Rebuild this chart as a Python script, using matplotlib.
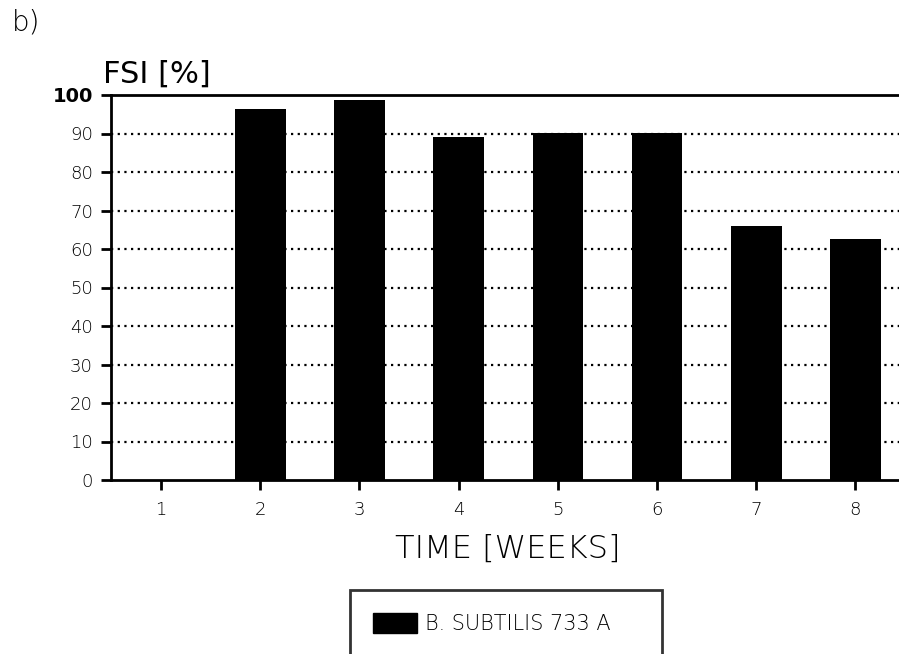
import matplotlib
matplotlib.use("Agg")
import matplotlib.pyplot as plt
from matplotlib.patches import Patch

weeks = [1, 2, 3, 4, 5, 6, 7, 8]
fsi = [0, 96.4, 98.7, 89.2, 90.1, 90.1, 66.1, 62.5]
yticks = [0, 10, 20, 30, 40, 50, 60, 70, 80, 90, 100]
series_name = "B. SUBTILIS 733 A"

plt.rcParams['font.family'] = ['DejaVu Sans']

W, H = 899, 654
fig = plt.figure(figsize=(W / 100, H / 100), dpi=100)
ax = fig.add_axes([111 / W, 174 / H, (905 - 111) / W, (480 - 95) / H])

for y in yticks[1:-1]:
    ax.axhline(y, color='black', linestyle=(0, (1, 2)), lw=1.6, zorder=1)

ax.bar(weeks, fsi, width=0.51, color='black', zorder=2, label=series_name)

ax.set_xlim(0.495, 8.5)
ax.set_ylim(0, 100)
ax.set_xticks(weeks)
ax.set_xticklabels([str(w) for w in weeks], fontsize=13, fontweight='light')
ax.set_yticks(yticks)
ylabels = ax.set_yticklabels([str(v) for v in yticks], fontsize=13, fontweight='light')
ylabels[-1].set_fontweight('bold')
ylabels[-1].set_fontsize(14)

for s in ['left', 'bottom', 'top']:
    ax.spines[s].set_linewidth(2)
ax.spines['right'].set_visible(False)
ax.tick_params(axis='y', direction='out', length=7, width=2, pad=6)
ax.tick_params(axis='x', direction='out', length=7, width=2, pad=8)

ax.set_xlabel("TIME [WEEKS]", fontsize=23, fontweight='light', labelpad=11)

fig.text(12 / W, 1 - 22 / H, "b)", fontsize=20, fontweight='light', va='center', ha='left')
fig.text(103 / W, 1 - 74 / H, "FSI [%]", fontsize=22, va='center', ha='left')

bh = 0.05
leg = fig.legend(handles=[Patch(facecolor='black', edgecolor='black', label=series_name)],
                 loc='upper left', bbox_to_anchor=(350 / W, 1 - 590 / H - bh, (662 - 350) / W, bh),
                 mode='expand', fontsize=15, frameon=True, fancybox=False,
                 borderpad=1.1, handlelength=2.1, handleheight=1.1, handletextpad=0.4,
                 borderaxespad=0)
leg.get_frame().set_edgecolor('black')
leg.get_frame().set_linewidth(2)
for t in leg.get_texts():
    t.set_fontweight('light')

fig.savefig("out.png", dpi=100)
